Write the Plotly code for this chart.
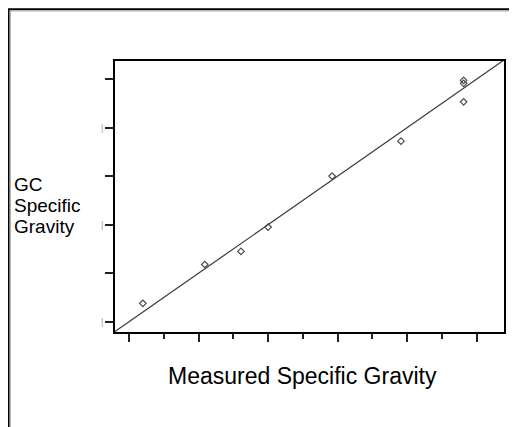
import plotly.graph_objects as go

# Data
measured_sg = [0.620, 0.709, 0.761, 0.800, 0.892, 0.991, 1.081, 1.081, 1.081]
gc_sg = [0.638, 0.718, 0.745, 0.795, 0.900, 0.972, 1.097, 1.091, 1.053]
fit_x = [0.58, 1.14]
fit_y = [0.58, 1.14]
x_tickvals = [0.6, 0.7, 0.8, 0.9, 1.0, 1.1]
y_tickvals = [0.6, 0.7, 0.8, 0.9, 1.0, 1.1]
y_ticktext = ["|", "", "|", "", "|", ""]
y_title_lines = ["GC", "Specific", "Gravity"]
x_title = "Measured Specific Gravity"

OFF = 8  # page body margin offset
W, H = 517 - OFF, 427 - OFF
L, R, T, B = 115 - OFF, 11, 61 - OFF, 95
pw, ph = W - L - R, H - T - B

def px(xp):
    return (xp - OFF - L) / pw

def py(yp):
    return (H - B - (yp - OFF)) / ph

fig = go.Figure()
fig.add_trace(go.Scatter(x=fit_x, y=fit_y, mode="lines",
                         line=dict(color="#3a3a3a", width=1.2),
                         hoverinfo="skip", showlegend=False))
fig.add_trace(go.Scatter(x=measured_sg, y=gc_sg, mode="markers",
                         marker=dict(symbol="diamond-open", size=5,
                                     color="#4a4a4a", line=dict(width=1.2)),
                         showlegend=False))

font = "Liberation Sans, Arial, sans-serif"
annotations = []
for i, line in enumerate(y_title_lines):
    annotations.append(dict(text=line, xref="paper", yref="paper",
                            x=px(11), y=py(184 + 21 * i), xanchor="left",
                            yanchor="middle", align="left", showarrow=False,
                            font=dict(size=19, family=font, color="black")))
annotations.append(dict(text=x_title, xref="paper", yref="paper",
                        x=px(303), y=py(376), xanchor="center", yanchor="middle",
                        showarrow=False,
                        font=dict(size=23, family=font, color="black")))

fig.update_layout(
    width=W, height=H,
    margin=dict(l=L, r=R, t=T, b=B, pad=0),
    paper_bgcolor="white", plot_bgcolor="white",
    showlegend=False,
    font=dict(family=font, color="black"),
    xaxis=dict(range=[0.58, 1.139], tickvals=x_tickvals, showticklabels=False,
               ticks="outside", ticklen=8, tickwidth=1.5, tickcolor="#222",
               minor=dict(ticks="outside", ticklen=5, tickwidth=1.5,
                          tickcolor="#222", dtick=0.05, showgrid=False),
               showgrid=False, zeroline=False, showline=True,
               linecolor="black", linewidth=1.5, mirror=True),
    yaxis=dict(range=[0.579, 1.137], tickvals=y_tickvals, ticktext=y_ticktext,
               tickfont=dict(size=9, color="#999999"),
               ticks="outside", ticklen=8, tickwidth=1.5, tickcolor="#222",
               showgrid=False, zeroline=False, showline=True,
               linecolor="black", linewidth=1.5, mirror=True),
    annotations=annotations,
    shapes=[
        dict(type="line", xref="paper", yref="paper",
             x0=px(8), y0=py(430), x1=px(8), y1=py(9), line=dict(color="black", width=2)),
        dict(type="line", xref="paper", yref="paper",
             x0=px(7), y0=py(9.3), x1=px(520), y1=py(9.3), line=dict(color="black", width=2)),
        dict(type="line", xref="paper", yref="paper",
             x0=px(10), y0=py(430), x1=px(10), y1=py(11), line=dict(color="#b0b0b0", width=1)),
        dict(type="line", xref="paper", yref="paper",
             x0=px(10), y0=py(11), x1=px(520), y1=py(11), line=dict(color="#b0b0b0", width=1)),
    ],
)

fig.write_html("out.html")
